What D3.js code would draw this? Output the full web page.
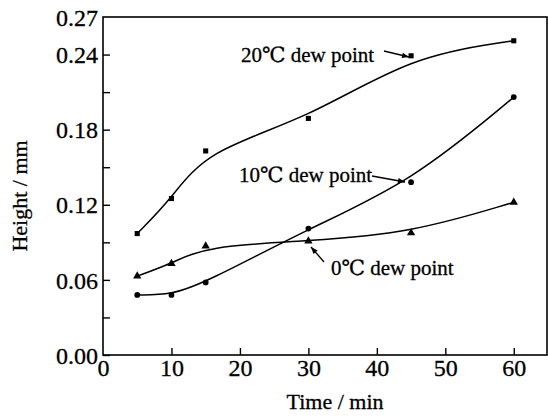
<!DOCTYPE html>
<html lang="en">
<head>
<meta charset="UTF-8">
<title>Height vs time</title>
<script src="https://d3js.org/d3.v7.min.js"></script>
<style>
  body { margin: 0; background: #fff; }
  svg text { font-family: "Liberation Serif", "DejaVu Serif", serif; fill: #000; stroke: #000; stroke-width: 0.3px; }
</style>
</head>
<body>
<svg width="548" height="418"></svg>
<script>
// data
const times = [5, 10, 15, 30, 45, 60];
const dew20 = [0.097, 0.125, 0.163, 0.189, 0.239, 0.251];
const dew10 = [0.048, 0.048, 0.058, 0.101, 0.138, 0.206];
const dew0 = [0.063, 0.073, 0.087, 0.091, 0.0975, 0.122];

const xTicks = [0, 10, 20, 30, 40, 50, 60];
const yTicks = [0, 0.03, 0.06, 0.09, 0.12, 0.15, 0.18, 0.21, 0.24, 0.27];
const yLabels = ["0.00", "0.06", "0.12", "0.18", "0.24", "0.27"];

const svg = d3.select("svg");
const mLeft = 103, mRight = 547, mTop = 17, mBottom = 355;

const x = d3.scaleLinear().domain([0, 65]).range([mLeft, mRight + 1]);
const y = d3.scaleLinear().domain([0, 0.27]).range([mBottom, mTop]);

// arrow head
svg.append("defs").append("marker")
  .attr("id", "arr")
  .attr("viewBox", "0 0 10 10")
  .attr("refX", 10).attr("refY", 5)
  .attr("markerWidth", 9).attr("markerHeight", 7)
  .attr("markerUnits", "userSpaceOnUse")
  .attr("orient", "auto")
  .append("path").attr("d", "M0,1 L10,5 L0,9 Z").attr("fill", "#000");

// frame
svg.append("rect")
  .attr("x", mLeft).attr("y", mTop)
  .attr("width", mRight - mLeft).attr("height", mBottom - mTop)
  .attr("fill", "none").attr("stroke", "#000").attr("stroke-width", 1.6);

// y axis (ticks inward)
const yAxis = d3.axisLeft(y).tickValues(yTicks).tickSize(-7)
  .tickFormat(d => {
    const s = d3.format(".2f")(d);
    return yLabels.includes(s) ? s : "";
  });
const gy = svg.append("g").attr("transform", `translate(${mLeft},0)`).call(yAxis);
gy.select(".domain").remove();
gy.selectAll(".tick line").attr("stroke", "#000").attr("stroke-width", 1.4);
gy.selectAll(".tick text").attr("x", -5).attr("dy", "0.34em").style("font-size", "24px");
gy.selectAll(".tick").filter(d => d === 0.27).select("line").remove();

// x axis (ticks inward)
const xAxis = d3.axisBottom(x).tickValues(xTicks).tickSize(-7).tickFormat(d3.format("d"));
const gx = svg.append("g").attr("transform", `translate(0,${mBottom})`).call(xAxis);
gx.select(".domain").remove();
gx.selectAll(".tick line").attr("stroke", "#000").attr("stroke-width", 1.4);
gx.selectAll(".tick").filter(d => d === 0).select("line").remove();
gx.selectAll(".tick text").attr("y", 4).attr("dy", "0.71em").style("font-size", "24px");

// axis titles
svg.append("text")
  .attr("x", (mLeft + mRight) / 2 + 10).attr("y", 409)
  .attr("text-anchor", "middle").style("font-size", "22px")
  .text("Time / min");
svg.append("text")
  .attr("transform", `translate(27,${(mTop + mBottom) / 2 + 10}) rotate(-90)`)
  .attr("text-anchor", "middle").style("font-size", "22px")
  .text("Height / mm");

// curves and markers
const series = [
  { vals: dew20, shape: d3.symbolSquare, size: 26 },
  { vals: dew10, shape: d3.symbolCircle, size: 26 },
  { vals: dew0, shape: d3.symbolTriangle, size: 30 }
];
const line = d3.line().x(d => x(d[0])).y(d => y(d[1])).curve(d3.curveBasis);

series.forEach(s => {
  const pts = times.map((t, i) => [t, s.vals[i]]);
  svg.append("path").datum(pts)
    .attr("d", line)
    .attr("fill", "none").attr("stroke", "#000").attr("stroke-width", 1.5);
  svg.append("g").selectAll("path").data(pts).join("path")
    .attr("transform", d => `translate(${x(d[0])},${y(d[1])})`)
    .attr("d", d3.symbol().type(s.shape).size(s.size))
    .attr("fill", "#000");
});

// annotations
const notes = [
  { text: "20\u2103 dew point", tx: 241, ty: 62, from: [384, 51], to: [409, 57] },
  { text: "10\u2103 dew point", tx: 239, ty: 182, from: [372, 176], to: [405, 182] },
  { text: "0\u2103 dew point", tx: 331, ty: 275, from: [324, 262], to: [311, 247] }
];
notes.forEach(n => {
  svg.append("text").attr("x", n.tx).attr("y", n.ty)
    .style("font-size", "21px").text(n.text);
  svg.append("line")
    .attr("x1", n.from[0]).attr("y1", n.from[1])
    .attr("x2", n.to[0]).attr("y2", n.to[1])
    .attr("stroke", "#000").attr("stroke-width", 1.3)
    .attr("marker-end", "url(#arr)");
});
</script>
</body>
</html>
